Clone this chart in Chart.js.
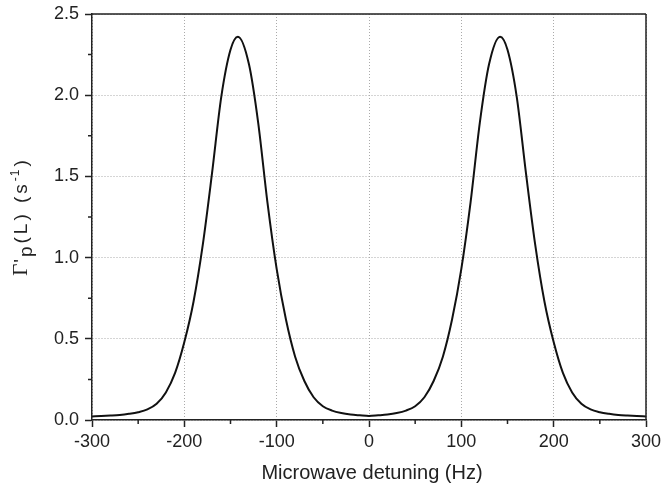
<!DOCTYPE html>
<html lang="en">
<head>
  <meta charset="UTF-8" />
  <title>Microwave detuning</title>
  <script src="https://cdn.jsdelivr.net/npm/chart.js"></script>
  <style>
    body { margin: 0; padding: 0; background: #fff; }
    #wrap { width: 661px; height: 489px; position: relative; }
  </style>
</head>
<body>
  <div id="wrap"><canvas id="chart"></canvas></div>

  <script>
    // detuning (Hz) and rate values
    const detuning = [
      -300, -290, -280, -270, -260, -250, -240, -230, -220, -210,
      -200, -190, -180, -170, -160, -150, -142, -130, -120, -110,
      -100, -90, -80, -70, -60, -50, -40, -30, -20, -10,
      0, 10, 20, 30, 40, 50, 60, 70, 80, 90,
      100, 110, 120, 130, 142, 150, 160, 170, 180, 190,
      200, 210, 220, 230, 240, 250, 260, 270, 280, 290, 300
    ];
    const rate = [
      0.022, 0.024, 0.027, 0.031, 0.038, 0.048, 0.065, 0.10, 0.17, 0.29,
      0.48, 0.73, 1.08, 1.52, 1.99, 2.28, 2.36, 2.19, 1.83, 1.34,
      0.93, 0.62, 0.39, 0.24, 0.14, 0.085, 0.058, 0.043, 0.034, 0.029,
      0.025, 0.029, 0.034, 0.043, 0.058, 0.085, 0.14, 0.24, 0.39, 0.62,
      0.93, 1.34, 1.83, 2.19, 2.36, 2.28, 1.99, 1.52, 1.08, 0.73,
      0.48, 0.29, 0.17, 0.10, 0.065, 0.048, 0.038, 0.031, 0.027, 0.024, 0.022
    ];
    const xMinorTicks = [-250, -150, -50, 50, 150, 250];
    const yMinorTicks = [0.25, 0.75, 1.25, 1.75, 2.25];

    const axisColor = "#222";
    const sans = "'Liberation Sans', Arial, sans-serif";
    Chart.defaults.font.family = sans;
    Chart.defaults.font.size = 18;
    Chart.defaults.color = axisColor;

    // frame, minor ticks and axis titles
    const decor = {
      id: "decor",
      afterDraw(chart) {
        const ctx = chart.ctx;
        const a = chart.chartArea;
        const xs = chart.scales.x, ys = chart.scales.y;
        ctx.save();
        ctx.strokeStyle = axisColor;
        ctx.lineWidth = 1.5;
        ctx.beginPath();
        ctx.moveTo(a.left, a.top); ctx.lineTo(a.right, a.top);
        ctx.moveTo(a.right, a.top); ctx.lineTo(a.right, a.bottom);
        xMinorTicks.forEach(v => {
          const px = xs.getPixelForValue(v);
          ctx.moveTo(px, a.bottom); ctx.lineTo(px, a.bottom + 4);
        });
        yMinorTicks.forEach(v => {
          const py = ys.getPixelForValue(v);
          ctx.moveTo(a.left, py); ctx.lineTo(a.left - 4, py);
        });
        ctx.stroke();

        // x title
        ctx.fillStyle = axisColor;
        ctx.font = "20px " + sans;
        ctx.textAlign = "center";
        ctx.textBaseline = "alphabetic";
        ctx.fillText("Microwave detuning (Hz)", (a.left + a.right) / 2 + 3, 479);

        // y title: Γ'p(L) (s-1), drawn letter by letter with wide tracking
        const big = "19px " + sans;
        const serif = "21px 'Liberation Serif', 'Times New Roman', serif";
        const small = "12px " + sans;
        const parts = [
          { t: "Γ", f: serif, dy: 0, gap: 1 },
          { t: "'", f: big, dy: 0, gap: 2 },
          { t: "p", f: big, dy: 5, gap: 3 },
          { t: "(", f: big, dy: 0, gap: 3 },
          { t: "L", f: big, dy: 0, gap: 3 },
          { t: ")", f: big, dy: 0, gap: 3 },
          { t: " ", f: big, dy: 0, gap: 3 },
          { t: "(", f: big, dy: 0, gap: 3 },
          { t: "s", f: big, dy: 0, gap: 3 },
          { t: "-", f: small, dy: -8, gap: 1 },
          { t: "1", f: small, dy: -8, gap: 3 },
          { t: ")", f: big, dy: 0, gap: 0 }
        ];
        let total = 0;
        parts.forEach(p => { ctx.font = p.f; p.w = ctx.measureText(p.t).width; total += p.w + p.gap; });
        ctx.translate(27, 218);
        ctx.rotate(-Math.PI / 2);
        ctx.textAlign = "left";
        let x = -total / 2;
        parts.forEach(p => {
          ctx.font = p.f;
          ctx.fillText(p.t, x, p.dy);
          x += p.w + p.gap;
        });
        ctx.restore();
      }
    };

    new Chart(document.getElementById("chart"), {
      type: "scatter",
      data: {
        datasets: [{
          data: detuning.map((d, i) => ({ x: d, y: rate[i] })),
          showLine: true,
          borderColor: "#111",
          borderWidth: 2,
          pointRadius: 0,
          cubicInterpolationMode: "monotone",
          fill: false
        }]
      },
      options: {
        responsive: true,
        maintainAspectRatio: false,
        animation: false,
        layout: { padding: { left: 30, right: 15, top: 14, bottom: 0 } },
        plugins: { legend: { display: false }, tooltip: { enabled: false } },
        scales: {
          x: {
            type: "linear",
            min: -300,
            max: 300,
            afterFit(scale) { scale.height = 69; scale.paddingLeft = 0; scale.paddingRight = 0; },
            ticks: { stepSize: 100, padding: 4, maxRotation: 0, callback: v => String(v) },
            grid: { color: "#aaa", lineWidth: 1, tickColor: axisColor, tickLength: 7, tickWidth: 1.5 },
            border: { display: true, color: axisColor, width: 1.5, dash: [1, 2] }
          },
          y: {
            min: 0,
            max: 2.5,
            afterFit(scale) { scale.width = 62; scale.paddingTop = 0; scale.paddingBottom = 0; },
            ticks: { stepSize: 0.5, padding: 6, callback: v => v.toFixed(1) },
            grid: { color: "#aaa", lineWidth: 1, tickColor: axisColor, tickLength: 7, tickWidth: 1.5 },
            border: { display: true, color: axisColor, width: 1.5, dash: [1, 2] }
          }
        }
      },
      plugins: [decor]
    });
  </script>
</body>
</html>
